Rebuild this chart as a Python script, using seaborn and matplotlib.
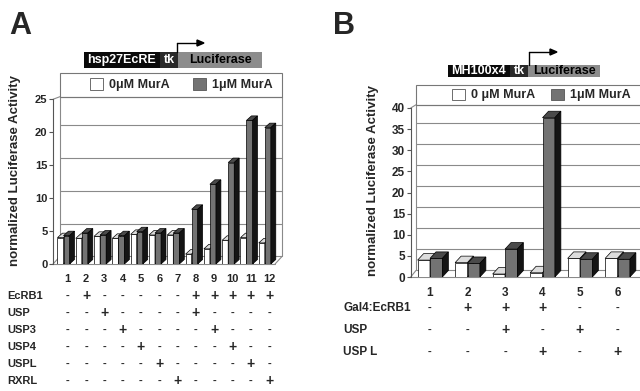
import numpy as np
import pandas as pd
import seaborn as sns
import matplotlib.pyplot as plt
from matplotlib.patches import Polygon, Rectangle
from matplotlib.lines import Line2D
from matplotlib.transforms import blended_transform_factory

sns.set_style('white')
plt.rcParams['font.family'] = ['Liberation Sans', 'DejaVu Sans']
plt.rcParams['font.weight'] = 'bold'

# panel A: hsp27EcRE reporter
lanes_a = ['1', '2', '3', '4', '5', '6', '7', '8', '9', '10', '11', '12']
mura0_a = [4.0, 3.9, 4.2, 3.9, 4.5, 4.4, 4.4, 1.5, 2.3, 3.6, 4.0, 3.2]
mura1_a = [4.3, 4.7, 4.4, 4.3, 4.9, 4.7, 4.7, 8.3, 12.1, 15.4, 21.8, 20.7]
doses_a = ['0\u03bcM MurA', '1\u03bcM MurA']
rows_a = ['EcRB1', 'USP', 'USP3', 'USP4', 'USPL', 'RXRL']
signs_a = ['-+-----+++++',
           '--+----+----',
           '---+----+---',
           '----+----+--',
           '-----+----+-',
           '------+----+']

# panel B: MH100x4 reporter
lanes_b = ['1', '2', '3', '4', '5', '6']
mura0_b = [4.0, 3.4, 0.7, 1.0, 4.4, 4.4]
mura1_b = [4.4, 3.2, 6.6, 37.7, 4.2, 4.2]
doses_b = ['0 \u03bcM MurA', '1\u03bcM MurA']
rows_b = ['Gal4:EcRB1', 'USP', 'USP L']
signs_b = ['-+++--',
           '--+-+-',
           '---+-+']

W, H = 640, 391
fig = plt.figure(figsize=(W / 100, H / 100), dpi=100)


def fx(px):
    return px / W


def fy(py):
    return 1 - py / H


def draw_panel(ax, lanes, zero, one, doses, ymax, ystep, xlim, depth, wall,
               top_off, shift, legend_box, legend_x, colspace, fs):
    df = pd.DataFrame({
        'lane': lanes * 2,
        'dose': [doses[0]] * len(lanes) + [doses[1]] * len(lanes),
        'activity': zero + one,
    })
    sns.barplot(data=df, x='lane', y='activity', hue='dose', hue_order=doses,
                palette=['white', '#737373'], saturation=1, width=0.66,
                edgecolor='black', linewidth=0.5, ax=ax)
    handles = ax.get_legend().legend_handles
    ax.get_legend().remove()

    # fake 3d: top and side faces on every bar
    dx, dy = depth
    faces = [('#dcdcdc', '#b0b0b0'), ('#4a4a4a', '#141414')]
    for k, cont in enumerate(ax.containers):
        for bar in cont:
            bar.set_zorder(2 + k)
            x0, w, h = bar.get_x(), bar.get_width(), bar.get_height()
            x1 = x0 + w
            ax.add_patch(Polygon([(x0, h), (x1, h), (x1 + dx, h + dy), (x0 + dx, h + dy)],
                                 fc=faces[k][0], ec='black', lw=0.5, zorder=2 + k))
            ax.add_patch(Polygon([(x1, 0), (x1, h), (x1 + dx, h + dy), (x1 + dx, dy)],
                                 fc=faces[k][1], ec='black', lw=0.5, zorder=2 + k))

    ax.set_xlim(*xlim)
    ax.set_ylim(0, ymax)
    ax.set_yticks(np.arange(0, ymax + ystep, ystep))
    ax.set_xticks(np.arange(len(lanes)) + shift, lanes)
    ax.set_xlabel('')
    ax.set_ylabel('')
    for s in ['top', 'right', 'bottom']:
        ax.spines[s].set_visible(False)
    ax.spines['left'].set_color('#555555')
    ax.spines['left'].set_linewidth(0.8)
    ax.tick_params(axis='y', left=True, length=3, width=0.8, color='#555555',
                   labelsize=fs, pad=1)
    ax.tick_params(axis='x', bottom=False, labelsize=fs, pad=4)

    # back wall, grid and floor
    x0, x1 = xlim
    wdx, wdy = wall
    kw = dict(color='#8a8a8a', lw=0.8, zorder=0.5, clip_on=False)
    for t in ax.get_yticks()[1:-1]:
        ax.plot([x0 + wdx, x1], [t + wdy, t + wdy], **kw)
    ax.plot([x0 + wdx, x1], [ymax + top_off, ymax + top_off], **kw)
    ax.plot([x0 + wdx, x0 + wdx], [wdy, ymax + top_off], **kw)
    ax.plot([x1, x1], [wdy, ymax + top_off], **kw)
    ax.plot([x0 + wdx, x1], [wdy, wdy], **kw)
    ax.plot([x0, x0 + wdx], [0, wdy], **kw)
    ax.plot([x0, x0 + wdx], [ymax, ymax + top_off], **kw)
    ax.plot([x0, x1 - wdx], [0, 0], **kw)
    ax.plot([x1 - wdx, x1], [0, wdy], **kw)

    # legend box on top of the wall
    lx, ly, lw, lh = legend_box
    ax.add_patch(Rectangle((lx, ly), lw, lh, transform=ax.transAxes, fill=False,
                           ec='#777777', lw=0.8, clip_on=False))
    for h in handles:
        h.set_edgecolor('#555555')
        h.set_linewidth(0.6)
    ax.legend(handles, doses, ncol=2, loc='center left',
              bbox_to_anchor=(legend_x, ly + lh / 2), frameon=False,
              fontsize=9, borderpad=0, borderaxespad=0, handlelength=1.0,
              handleheight=1.0, handletextpad=0.5, columnspacing=colspace)


# ---------------- panel A ----------------
ax_a = fig.add_axes([fx(53), fy(264), fx(282 - 53), (264 - 99.3) / H])
xa0 = -(63.5 - 53) / 18.3
draw_panel(ax_a, lanes_a, mura0_a, mura1_a, doses_a, 25, 5,
           (xa0, xa0 + 229 / 18.3), depth=(0.27, 0.68), wall=(0.38, 1.14),
           top_off=0.4, shift=0.23,
           legend_box=(7 / 229, (264 - 96.7) / 164.7, 222 / 229, 23.7 / 164.7),
           legend_x=(90 - 53) / 229, colspace=1.9, fs=8)

# ---------------- panel B ----------------
ax_b = fig.add_axes([fx(410.7), fy(277), fx(690 - 410.7), (277 - 108) / H])
xb0 = -(430 - 410.7) / 37.5
draw_panel(ax_b, lanes_b, mura0_b, mura1_b, doses_b, 40, 5,
           (xb0, xb0 + 279.3 / 37.5), depth=(0.16, 1.54), wall=(0.14, 1.54),
           top_off=0.76, shift=0.0,
           legend_box=(5.3 / 279.3, (277 - 105) / 169, 300 / 279.3, 20 / 169),
           legend_x=(452 - 410.7) / 279.3, colspace=1.3, fs=8.5)

# y labels
fig.text(fx(15), fy(171), 'normalized Luciferase Activity', rotation=90,
         ha='center', va='center', fontsize=9.5)
fig.text(fx(373), fy(181), 'normalized Luciferase Activity', rotation=90,
         ha='center', va='center', fontsize=9.5)

# panel letters
fig.text(fx(9), fy(26), 'A', fontsize=22, va='center', ha='left')
fig.text(fx(333), fy(26), 'B', fontsize=22, va='center', ha='left')

# transfection tables
tr_a = blended_transform_factory(ax_a.transData, fig.transFigure)
for k, (name, signs) in enumerate(zip(rows_a, signs_a)):
    y = fy(296 + 17 * k)
    fig.text(fx(7), y, name, fontsize=8, va='center', ha='left')
    for i, s in enumerate(signs):
        ax_a.text(i + 0.23, y, s, transform=tr_a, ha='center', va='center',
                  fontsize=10 if s == '+' else 8, clip_on=False)

tr_b = blended_transform_factory(ax_b.transData, fig.transFigure)
for k, (name, signs) in enumerate(zip(rows_b, signs_b)):
    y = fy(308 + 22 * k)
    fig.text(fx(343), y, name, fontsize=8.5, va='center', ha='left')
    for i, s in enumerate(signs):
        ax_b.text(i, y, s, transform=tr_b, ha='center', va='center',
                  fontsize=10 if s == '+' else 8, clip_on=False)


# reporter constructs
def construct(parts, y0, y1, arrow_x, arrow_top, arrow_end):
    for (a, b, color, label, tcolor) in parts:
        fig.add_artist(Rectangle((fx(a), fy(y1)), fx(b - a), (y1 - y0) / H,
                                 transform=fig.transFigure, fc=color, ec='none'))
        fig.text(fx((a + b) / 2), fy((y0 + y1) / 2), label, color=tcolor,
                 ha='center', va='center', fontsize=9)
    fig.add_artist(Line2D([fx(arrow_x), fx(arrow_x)], [fy(y0), fy(arrow_top)],
                          color='black', lw=1, transform=fig.transFigure))
    fig.add_artist(Line2D([fx(arrow_x), fx(arrow_end - 4)], [fy(arrow_top), fy(arrow_top)],
                          color='black', lw=1, transform=fig.transFigure))
    fig.add_artist(Polygon([(fx(arrow_end), fy(arrow_top)),
                            (fx(arrow_end - 7), fy(arrow_top - 3)),
                            (fx(arrow_end - 7), fy(arrow_top + 3))],
                           closed=True, fc='black', ec='black',
                           transform=fig.transFigure))


construct([(84, 160, '#0a0a0a', 'hsp27EcRE', 'white'),
           (160, 178, '#2a2a2a', 'tk', 'white'),
           (178, 262, '#8c8c8c', 'Luciferase', 'black')],
          52, 68, 177, 43, 204)
construct([(448, 510, '#0a0a0a', 'MH100x4', 'white'),
           (510, 528, '#2a2a2a', 'tk', 'white'),
           (528, 600, '#8c8c8c', 'Luciferase', 'black')],
          65, 77, 529, 52, 557)

fig.savefig('out.png', dpi=100)
